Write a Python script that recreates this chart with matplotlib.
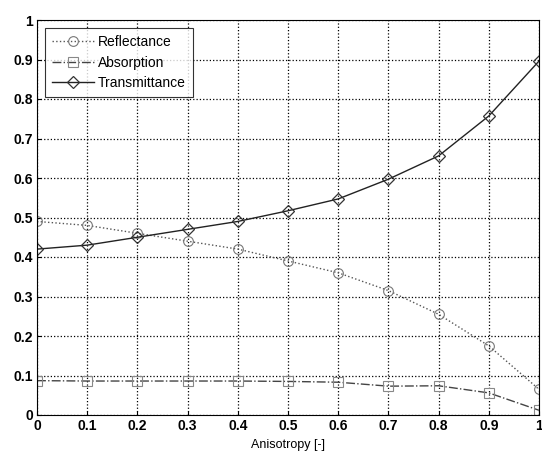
import numpy as np
import matplotlib.pyplot as plt

plt.rcParams['font.family'] = ['Liberation Sans', 'DejaVu Sans']

anisotropy = [0, 0.1, 0.2, 0.3, 0.4, 0.5, 0.6, 0.7, 0.8, 0.9, 1.0]
reflectance = [0.49, 0.48, 0.46, 0.44, 0.42, 0.39, 0.36, 0.315, 0.255, 0.175, 0.065]
absorption = [0.087, 0.086, 0.086, 0.086, 0.086, 0.085, 0.083, 0.073, 0.074, 0.056, 0.012]
transmittance = [0.42, 0.43, 0.45, 0.47, 0.49, 0.517, 0.547, 0.597, 0.656, 0.757, 0.896]

fig = plt.figure(figsize=(5.42, 4.57), dpi=100)
ax = fig.add_axes([37 / 542, 42 / 457, 502 / 542, 395 / 457])

ax.plot(anisotropy, reflectance, linestyle=':', color='#555555', lw=1.0,
        marker='o', markersize=7, markerfacecolor='none', markeredgecolor='#777777',
        markeredgewidth=0.8, label='Reflectance')
ax.plot(anisotropy, absorption, linestyle='-.', color='#444444', lw=1.0,
        marker='s', markersize=7, markerfacecolor='none', markeredgecolor='#888888',
        markeredgewidth=0.8, label='Absorption')
ax.plot(anisotropy, transmittance, linestyle='-', color='#222222', lw=1.0,
        marker='D', markersize=6, markerfacecolor='none', markeredgecolor='#333333',
        markeredgewidth=0.9, label='Transmittance')

ax.set_xlim(0, 1)
ax.set_ylim(0, 1)
ax.set_xticks(np.arange(0, 1.01, 0.1))
ax.set_yticks(np.arange(0, 1.01, 0.1))
ax.set_xticklabels(['0', '0.1', '0.2', '0.3', '0.4', '0.5', '0.6', '0.7', '0.8', '0.9', '1'])
ax.set_yticklabels(['0', '0.1', '0.2', '0.3', '0.4', '0.5', '0.6', '0.7', '0.8', '0.9', '1'])
ax.tick_params(axis='both', labelsize=10, length=3, direction='in', pad=3)
for lab in ax.get_xticklabels() + ax.get_yticklabels():
    lab.set_fontweight('bold')
ax.grid(True, linestyle=':', color='black', lw=0.9)
for s in ax.spines.values():
    s.set_linewidth(0.8)

ax.set_xlabel('Anisotropy [-]', fontsize=9, labelpad=4)

leg = ax.legend(loc='upper left', fontsize=10, frameon=True, fancybox=False,
                edgecolor='black', borderaxespad=0.6, handlelength=3.0,
                labelspacing=0.45, borderpad=0.5, handletextpad=0.3)
leg.get_frame().set_linewidth(0.8)

fig.savefig('out.png', dpi=100)
